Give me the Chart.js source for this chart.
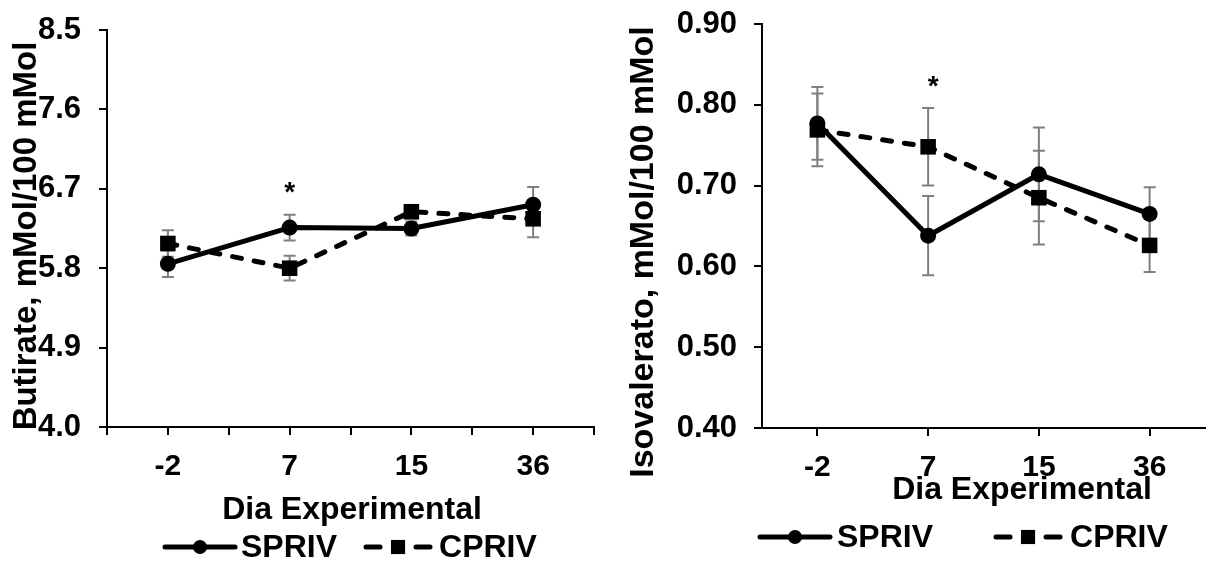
<!DOCTYPE html>
<html>
<head>
<meta charset="utf-8">
<script src="https://cdn.jsdelivr.net/npm/chart.js@4.4.0/dist/chart.umd.min.js"></script>
<style>
  html, body { margin: 0; padding: 0; background: #fff; overflow: hidden; }
  #wrap { position: relative; width: 1210px; height: 561px; overflow: hidden; }
  #butChart { position: absolute; left: 0; top: 0; }
  #isoChart { position: absolute; left: 605px; top: 0; }
</style>
</head>
<body>
<div id="wrap">
  <canvas id="butChart" width="605" height="561"></canvas>
  <canvas id="isoChart" width="611" height="561"></canvas>
</div>
<script>
var days = ['-2', '7', '15', '36']
var seriesNames = ['SPRIV', 'CPRIV']

// Butirate, mMol/100 mMol
var butSpriv = [5.85, 6.26, 6.25, 6.52]
var butSprivErr = [0.15, 0.145, 0.08, 0.20]
var butCpriv = [6.08, 5.80, 6.44, 6.36]
var butCprivErr = [0.15, 0.14, 0.075, 0.21]
var butTicks = [4.0, 4.9, 5.8, 6.7, 7.6, 8.5]
var butStar = {day: 1, value: 6.74}

// Isovalerato, mMol/100 mMol
var isoSpriv = [0.777, 0.638, 0.714, 0.665]
var isoSprivErr = [0.045, 0.049, 0.058, 0.033]
var isoCpriv = [0.769, 0.748, 0.685, 0.626]
var isoCprivErr = [0.045, 0.048, 0.058, 0.033]
var isoTicks = [0.40, 0.50, 0.60, 0.70, 0.80, 0.90]
var isoStar = {day: 1, value: 0.832}

var FONT = "'Liberation Sans', Arial, sans-serif"

function toPoints(values) {
    return values.map(function(v, i) { return {x: i, y: v} })
}

// === gray error bars with caps, drawn under the lines ===
var errorBars = {
    id: 'errorBars',
    beforeDatasetsDraw: function(chart) {
        var ctx = chart.ctx, xs = chart.scales.x, ys = chart.scales.y
        ctx.save()
        ctx.strokeStyle = '#7f7f7f'
        ctx.lineWidth = 2
        chart.data.datasets.forEach(function(ds) {
            ds.data.forEach(function(p, i) {
                var e = ds.errors[i]
                var x = xs.getPixelForValue(p.x)
                var top = ys.getPixelForValue(p.y + e)
                var bot = ys.getPixelForValue(p.y - e)
                ctx.beginPath()
                ctx.moveTo(x, top); ctx.lineTo(x, bot)
                ctx.moveTo(x - 6, top); ctx.lineTo(x + 6, top)
                ctx.moveTo(x - 6, bot); ctx.lineTo(x + 6, bot)
                ctx.stroke()
            })
        })
        ctx.restore()
    }
}

// line sample + marker, used by the legend
function drawSample(ctx, ds, x, y, len) {
    ctx.save()
    ctx.strokeStyle = '#000'
    ctx.fillStyle = '#000'
    ctx.lineWidth = ds.borderWidth
    ctx.lineCap = 'round'
    ctx.beginPath()
    if (ds.borderDash && ds.borderDash.length) {
        ctx.moveTo(x + 3, y); ctx.lineTo(x + 17, y)
        ctx.moveTo(x + len - 17, y); ctx.lineTo(x + len - 3, y)
    } else {
        ctx.moveTo(x, y); ctx.lineTo(x + len, y)
    }
    ctx.stroke()
    ctx.lineWidth = 0
    Chart.helpers.drawPoint(ctx, {pointStyle: ds.pointStyle, radius: ds.pointRadius - 1, borderWidth: 0}, x + len / 2, y)
    ctx.restore()
}

// === axis titles, significance star and legend ===
var chartText = {
    id: 'chartText',
    afterDraw: function(chart, args, o) {
        var ctx = chart.ctx
        ctx.save()
        ctx.fillStyle = '#000'
        ctx.textBaseline = 'middle'
        ctx.textAlign = 'center'

        // y title (rotated)
        ctx.save()
        ctx.font = 'bold ' + o.yTitleSize + 'px ' + FONT
        ctx.translate(o.yTitleX, o.yTitleY)
        ctx.rotate(-Math.PI / 2)
        ctx.fillText(o.yTitle, 0, 0)
        ctx.restore()

        // x title
        ctx.font = 'bold ' + o.xTitleSize + 'px ' + FONT
        ctx.fillText(o.xTitle, o.xTitleX, o.xTitleY)

        // star over the significant day
        var xs = chart.scales.x, ys = chart.scales.y
        ctx.font = 'bold ' + o.starSize + 'px ' + FONT
        ctx.textBaseline = 'alphabetic'
        ctx.fillText('*', xs.getPixelForValue(o.star.day) + o.starDX, ys.getPixelForValue(o.star.value) + o.starSize * 0.57)

        // legend
        var lg = o.legend
        var x = lg.x
        ctx.font = 'bold ' + lg.size + 'px ' + FONT
        ctx.textAlign = 'left'
        ctx.textBaseline = 'middle'
        chart.data.datasets.forEach(function(ds) {
            drawSample(ctx, ds, x, lg.y, lg.sample)
            x += lg.sample + lg.gap
            ctx.fillText(ds.label, x, lg.y + 1)
            x += ctx.measureText(ds.label).width + lg.itemGap
        })
        ctx.restore()
    }
}

function makeChart(canvasId, cfg) {
    var tickFontY = {family: FONT, size: 31, weight: 'bold'}
    var tickFontX = {family: FONT, size: 30, weight: 'bold'}
    var config = {
        type: 'line',
        data: {
            datasets: [{
                label: seriesNames[0],
                data: toPoints(cfg.spriv),
                errors: cfg.sprivErr,
                borderColor: '#000',
                backgroundColor: '#000',
                borderWidth: 5,
                borderJoinStyle: 'round',
                pointStyle: 'circle',
                pointRadius: 8,
                pointBorderWidth: 0,
                pointBackgroundColor: '#000',
            }, {
                label: seriesNames[1],
                data: toPoints(cfg.cpriv),
                errors: cfg.cprivErr,
                borderColor: '#000',
                backgroundColor: '#000',
                borderWidth: 5,
                borderDash: [9, 13],
                borderCapStyle: 'round',
                pointStyle: 'rect',
                pointRadius: 11,
                pointBorderWidth: 0,
                pointBackgroundColor: '#000',
            }],
        },
        options: {
            responsive: false,
            animation: false,
            layout: {
                padding: {top: cfg.top, left: 0, right: cfg.right, bottom: 0}
            },
            plugins: {
                legend: {display: false},
                tooltip: {enabled: false},
                chartText: cfg.text,
            },
            scales: {
                x: {
                    type: 'linear',
                    min: -0.5,
                    max: 3.5,
                    afterBuildTicks: function(s) {
                        s.ticks = cfg.xTickValues.map(function(v) { return {value: v} })
                    },
                    ticks: {
                        autoSkip: false,
                        maxRotation: 0,
                        padding: cfg.xTickPad,
                        color: '#000',
                        font: tickFontX,
                        callback: function(v) { return Number.isInteger(v) ? days[v] : '' }
                    },
                    grid: {drawOnChartArea: false, tickLength: 8, color: '#000', lineWidth: 2},
                    border: {color: '#000', width: 2},
                    afterFit: function(s) {
                        s.height = cfg.xHeight
                        s.paddingLeft = 0
                        s.paddingRight = 0
                    }
                },
                y: {
                    min: cfg.yTicks[0],
                    max: cfg.yTicks[cfg.yTicks.length - 1],
                    afterBuildTicks: function(s) {
                        s.ticks = cfg.yTicks.map(function(v) { return {value: v} })
                    },
                    ticks: {
                        padding: cfg.yTickPad,
                        color: '#000',
                        font: tickFontY,
                        callback: function(v) { return v.toFixed(cfg.decimals) }
                    },
                    grid: {drawOnChartArea: false, tickLength: 8, color: '#000', lineWidth: 2},
                    border: {color: '#000', width: 2},
                    afterFit: function(s) {
                        // fixed plot box: keep label padding from pushing the area down
                        s.width = cfg.yWidth
                        s.paddingTop = 0
                        s.paddingBottom = 0
                    }
                }
            }
        },
        plugins: [errorBars, chartText]
    }
    return new Chart(document.getElementById(canvasId), config)
}

makeChart('butChart', {
    spriv: butSpriv, sprivErr: butSprivErr,
    cpriv: butCpriv, cprivErr: butCprivErr,
    yTicks: butTicks, decimals: 1,
    xTickValues: [-0.5, 0, 0.5, 1, 1.5, 2, 2.5, 3, 3.5],
    top: 30, right: 9, yWidth: 107, xHeight: 134,
    xTickPad: 14, yTickPad: 18,
    text: {
        yTitle: 'Butirate, mMol/100 mMol', yTitleSize: 33, yTitleX: 27, yTitleY: 236,
        xTitle: 'Dia Experimental', xTitleSize: 32, xTitleX: 352, xTitleY: 510,
        star: butStar, starSize: 28, starDX: 0,
        legend: {x: 165, y: 547, size: 32, sample: 70, gap: 6, itemGap: 26}
    }
})

makeChart('isoChart', {
    spriv: isoSpriv, sprivErr: isoSprivErr,
    cpriv: isoCpriv, cprivErr: isoCprivErr,
    yTicks: isoTicks, decimals: 2,
    xTickValues: [0, 1, 2, 3],
    top: 24, right: 0, yWidth: 157, xHeight: 133,
    xTickPad: 14, yTickPad: 17,
    text: {
        yTitle: 'Isovalerato, mMol/100 mMol', yTitleSize: 34, yTitleX: 39, yTitleY: 252,
        xTitle: 'Dia Experimental', xTitleSize: 32, xTitleX: 417, xTitleY: 490,
        star: isoStar, starSize: 28, starDX: 5,
        legend: {x: 155, y: 537, size: 32, sample: 70, gap: 7, itemGap: 60}
    }
})
</script>
</body>
</html>
